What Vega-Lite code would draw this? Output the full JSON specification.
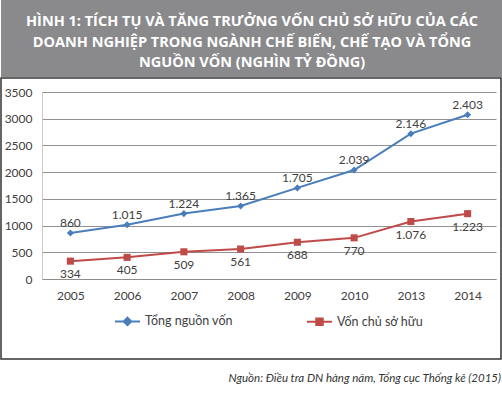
{
  "$schema": "https://vega.github.io/schema/vega-lite/v6.json",
  "padding": 0,
  "background": "white",
  "spacing": 0,
  "config": {"view": {"stroke": null}, "font": "Lato"},
  "vconcat": [
    {
      "width": 502,
      "height": 77,
      "view": {"fill": "#8a8a8c", "stroke": null},
      "data": {"values": [
        {"n": 1, "t": "HÌNH 1: TÍCH TỤ VÀ TĂNG TRƯỞNG VỐN CHỦ SỞ HỮU CỦA CÁC"},
        {"n": 2, "t": "DOANH NGHIỆP TRONG NGÀNH CHẾ BIẾN, CHẾ TẠO VÀ TỔNG"},
        {"n": 3, "t": "NGUỒN VỐN (NGHÌN TỶ ĐỒNG)"}
      ]},
      "mark": {
        "type": "text",
        "font": "Open Sans",
        "fontWeight": "bold",
        "fontSize": 14.5,
        "color": "white",
        "align": "center",
        "baseline": "middle"
      },
      "encoding": {
        "y": {"field": "n", "type": "ordinal", "axis": null, "scale": {"type": "point", "padding": 0.878, "align": 0.62}},
        "text": {"field": "t"}
      }
    },
    {
      "width": 500,
      "height": 281,
      "view": {"stroke": "#333333", "strokeWidth": 1.5},
      "title": {
        "text": "Nguồn: Điều tra DN hàng năm, Tổng cục Thống kê (2015)",
        "orient": "bottom",
        "anchor": "end",
        "frame": "group",
        "font": "Lato",
        "fontStyle": "italic",
        "fontWeight": "normal",
        "fontSize": 11.5,
        "color": "#333333",
        "offset": 14
      },
      "data": {"values": [
        {"year": "2005", "series": "Tổng nguồn vốn", "value": 860, "label": "860"},
        {"year": "2006", "series": "Tổng nguồn vốn", "value": 1015, "label": "1.015"},
        {"year": "2007", "series": "Tổng nguồn vốn", "value": 1224, "label": "1.224"},
        {"year": "2008", "series": "Tổng nguồn vốn", "value": 1365, "label": "1.365"},
        {"year": "2009", "series": "Tổng nguồn vốn", "value": 1705, "label": "1.705"},
        {"year": "2010", "series": "Tổng nguồn vốn", "value": 2039, "label": "2.039"},
        {"year": "2013", "series": "Tổng nguồn vốn", "value": 2720, "label": "2.146"},
        {"year": "2014", "series": "Tổng nguồn vốn", "value": 3075, "label": "2.403"},
        {"year": "2005", "series": "Vốn chủ sở hữu", "value": 334, "label": "334"},
        {"year": "2006", "series": "Vốn chủ sở hữu", "value": 405, "label": "405"},
        {"year": "2007", "series": "Vốn chủ sở hữu", "value": 509, "label": "509"},
        {"year": "2008", "series": "Vốn chủ sở hữu", "value": 561, "label": "561"},
        {"year": "2009", "series": "Vốn chủ sở hữu", "value": 688, "label": "688"},
        {"year": "2010", "series": "Vốn chủ sở hữu", "value": 770, "label": "770"},
        {"year": "2013", "series": "Vốn chủ sở hữu", "value": 1076, "label": "1.076"},
        {"year": "2014", "series": "Vốn chủ sở hữu", "value": 1223, "label": "1.223"}
      ]},
      "encoding": {
        "x": {
          "field": "year",
          "type": "ordinal",
          "scale": {"type": "point", "range": [41, 495], "padding": 0.5},
          "axis": {
            "title": null,
            "labelAngle": 0,
            "offset": -80,
            "ticks": false,
            "labelPadding": 11,
            "domainColor": "#8c8c8c",
            "labelFont": "Lato",
            "labelFontSize": 12,
            "labelColor": "#404040",
            "grid": false
          }
        },
        "y": {
          "field": "value",
          "type": "quantitative",
          "scale": {"domain": [0, 3500], "range": [201, 14], "nice": false},
          "axis": {
            "title": null,
            "values": [0, 500, 1000, 1500, 2000, 2500, 3000, 3500],
            "format": "d",
            "offset": -41,
            "ticks": false,
            "labelPadding": 10,
            "domainColor": "#c8c8c8",
            "gridColor": "#909090",
            "gridOpacity": 1,
            "labelFont": "Lato",
            "labelFontSize": 12,
            "labelColor": "#404040"
          }
        },
        "color": {
          "field": "series",
          "type": "nominal",
          "scale": {"domain": ["Tổng nguồn vốn", "Vốn chủ sở hữu"], "range": ["#4a7ebb", "#be4b48"]},
          "legend": {
            "title": null,
            "orient": "none",
            "legendX": 113,
            "legendY": 307.5,
            "direction": "horizontal",
            "symbolSize": 625,
            "symbolStrokeWidth": 2,
            "symbolType": {"expr": "datum.value == 'Tổng nguồn vốn' ? 'M-1,0H1M0,-0.3L0.3,0L0,0.3L-0.3,0Z' : 'M-1,0H1M-0.26,-0.26H0.26V0.26H-0.26Z'"},
            "labelFont": "Lato",
            "labelFontSize": 12.5,
            "labelColor": "#404040",
            "columnPadding": 70,
            "gridAlign": "all"
          }
        }
      },
      "layer": [
        {"mark": {"type": "line", "strokeWidth": 2}},
        {
          "transform": [{"filter": "datum.series == 'Tổng nguồn vốn'"}],
          "mark": {"type": "point", "filled": true, "opacity": 1, "size": 50},
          "encoding": {"shape": {"value": "diamond"}}
        },
        {
          "transform": [{"filter": "datum.series == 'Vốn chủ sở hữu'"}],
          "mark": {"type": "point", "filled": true, "opacity": 1, "size": 50},
          "encoding": {"shape": {"value": "square"}}
        },
        {
          "transform": [{"filter": "datum.series == 'Tổng nguồn vốn'"}],
          "mark": {"type": "text", "dy": -10, "font": "Lato", "fontSize": 12, "color": "#404040"},
          "encoding": {"text": {"field": "label"}, "color": {"value": "#404040"}}
        },
        {
          "transform": [{"filter": "datum.series == 'Vốn chủ sở hữu'"}],
          "mark": {"type": "text", "dy": 13, "font": "Lato", "fontSize": 12, "color": "#404040"},
          "encoding": {"text": {"field": "label"}, "color": {"value": "#404040"}}
        }
      ]
    }
  ]
}
